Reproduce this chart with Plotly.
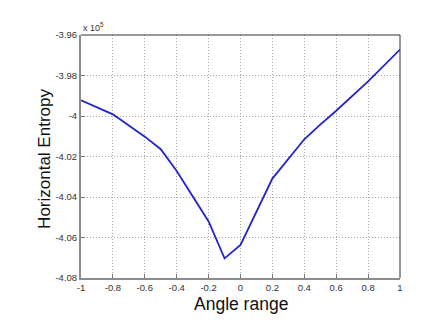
import plotly.graph_objects as go

# Data (y in units of 1e5)
angle = [-1.0, -0.8, -0.6, -0.5, -0.4, -0.3, -0.2, -0.1, 0.0, 0.2, 0.4, 0.5, 0.6, 0.8, 1.0]
entropy = [-3.9922, -3.9992, -4.0102, -4.0164, -4.0272, -4.0398, -4.0521, -4.0703, -4.0637,
           -4.0309, -4.0115, -4.0043, -3.9974, -3.9829, -3.9672]

x_ticks = [-1, -0.8, -0.6, -0.4, -0.2, 0, 0.2, 0.4, 0.6, 0.8, 1]
x_tick_text = ["-1", "-0.8", "-0.6", "-0.4", "-0.2", "0", "0.2", "0.4", "0.6", "0.8", "1"]
y_ticks = [-3.96, -3.98, -4.0, -4.02, -4.04, -4.06, -4.08]
y_tick_text = ["-3.96", "-3.98", "-4", "-4.02", "-4.04", "-4.06", "-4.08"]

FONT = "Liberation Sans, Arial, sans-serif"

fig = go.Figure()
fig.add_trace(go.Scatter(x=angle, y=entropy, mode="lines",
                         line=dict(color="#2424c8", width=1.8)))

axis_common = dict(showgrid=True, gridcolor="#a8a8a8", griddash="1px,2px", gridwidth=1,
                   zeroline=False, showline=True, linecolor="#8c8c8c", linewidth=2,
                   mirror=False, ticks="inside", ticklen=4, tickcolor="#777777",
                   tickfont=dict(family=FONT, size=9.5, color="#333333"))

fig.update_xaxes(range=[-1, 1], tickvals=x_ticks, ticktext=x_tick_text, **axis_common)
fig.update_yaxes(range=[-4.08, -3.96], tickvals=y_ticks, ticktext=y_tick_text, **axis_common)

# top and right frame lines
fig.add_shape(type="line", xref="paper", yref="paper", x0=0, x1=1, y0=1, y1=1,
              line=dict(color="#333333", width=1))
fig.add_shape(type="line", xref="paper", yref="paper", x0=1, x1=1, y0=0, y1=1,
              line=dict(color="#333333", width=1))

fig.add_annotation(x=0.5, y=-0.108, xref="paper", yref="paper", xanchor="center", yanchor="middle",
                   text="Angle range", showarrow=False,
                   font=dict(family=FONT, size=17.5, color="#111111"))
fig.add_annotation(x=-0.113, y=0.49, xref="paper", yref="paper", xanchor="center", yanchor="middle",
                   text="Horizontal Entropy", showarrow=False, textangle=-90,
                   font=dict(family=FONT, size=17, color="#111111"))

fig.add_annotation(x=0, y=1, xref="paper", yref="paper", xanchor="left", yanchor="bottom",
                   text="x 10<sup>5</sup>", showarrow=False,
                   font=dict(family=FONT, size=9, color="#333333"))

fig.update_layout(width=447, height=330, plot_bgcolor="white", paper_bgcolor="white",
                  margin=dict(l=81, r=47, t=35, b=52), showlegend=False)

fig.write_html("out.html")
